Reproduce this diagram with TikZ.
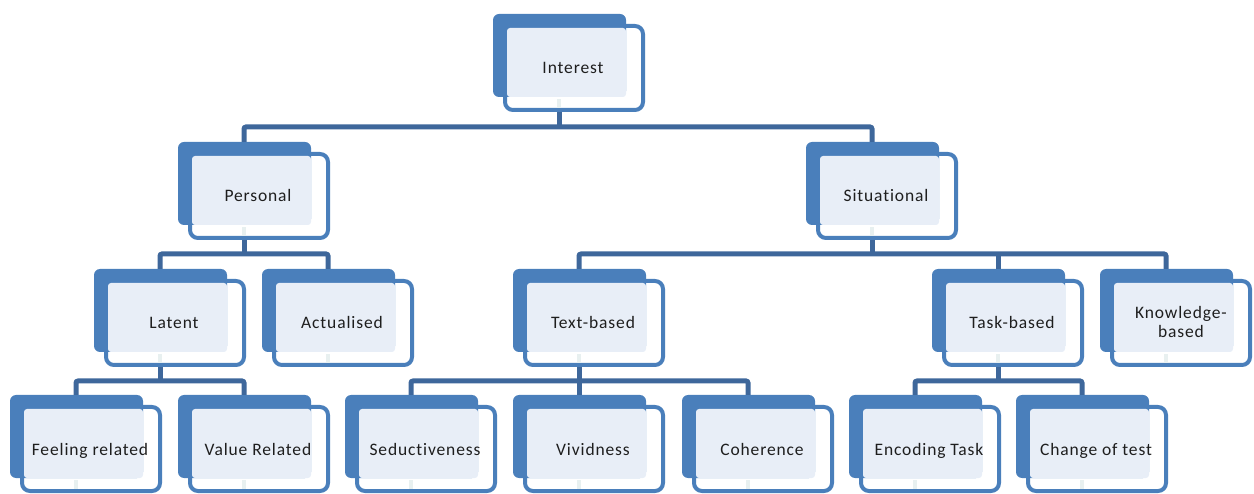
\documentclass[tikz,border=0pt]{standalone}
\usepackage{fontspec}
\setmainfont{Carlito}[LetterSpace=5,Ligatures=NoCommon]
\usetikzlibrary{calc}
\definecolor{boxblue}{RGB}{74,127,187}
\definecolor{connblue}{RGB}{62,103,155}
\definecolor{lightfill}{RGB}{232,238,247}
\definecolor{stubcol}{RGB}{232,240,240}
\definecolor{txtcol}{RGB}{30,30,30}
\tikzset{
  bluebox/.style={fill=boxblue, rounded corners=6pt, minimum width=133pt, minimum height=83pt, inner sep=0pt, outer sep=0pt, anchor=north west},
  outl/.style={draw=boxblue, line width=4pt, rounded corners=8pt},
  lightb/.style={fill=lightfill, rounded corners=3pt},
  txt/.style={font=\fontsize{17.5}{19}\selectfont, text=txtcol, inner sep=0pt, anchor=base},
  conn/.style={draw=connblue, line width=5pt, rounded corners=2pt},
  stub/.style={draw=stubcol, line width=3.5pt}
}
\newcommand\smartbox[4]{%
  \node[bluebox] (#1) at (#2,#3) {};
  \draw[outl] ($(#2,#3)+(12,12)$) rectangle ($(#2,#3)+(150,96)$);
  \fill[lightb] ($(#2,#3)+(14,14)$) rectangle ($(#2,#3)+(133,83)$);
  \coordinate (#1top) at ($(#2,#3)+(66,0)$);
  \coordinate (#1bot) at ($(#2,#3)+(66,98)$);
  \draw[stub] ($(#2,#3)+(66,85)$) -- ($(#2,#3)+(66,94)$);
  \node[txt] (#1t) at ($(#2,#3)+(80,60)$) {#4};
}
\begin{document}
\begin{tikzpicture}[x=1pt,y=-1pt]
\useasboundingbox (0,0) rectangle (1254,494);
% nodes
\smartbox{interest}{493}{14}{Interest}
\smartbox{personal}{178}{142}{Personal}
\smartbox{situational}{806}{142}{Situational}
\smartbox{latent}{94}{269}{Latent}
\smartbox{actualised}{262}{269}{Actualised}
\smartbox{textbased}{513}{269}{Text-based}
\smartbox{taskbased}{932}{269}{Task-based}
\smartbox{knowledge}{1100}{269}{}
\node[txt] (knowledge1) at (1181,319) {Knowledge-};
\node[txt] (knowledge2) at (1181,338) {based};
\smartbox{feeling}{10}{395}{Feeling related}
\smartbox{value}{178}{395}{Value Related}
\smartbox{seductive}{345}{395}{Seductiveness}
\smartbox{vivid}{513}{395}{Vividness}
\smartbox{coherence}{682}{395}{Coherence}
\smartbox{encoding}{849}{395}{Encoding Task}
\smartbox{change}{1016}{395}{Change of test}
% connectors
\draw[conn] (interestbot) -- (interestbot |- 0,127);
\draw[conn] (personaltop) -- (personaltop |- 0,127) -- (situationaltop |- 0,127) -- (situationaltop);

\draw[conn] (personalbot) -- (personalbot |- 0,254);
\draw[conn] (latenttop) -- (latenttop |- 0,254) -- (actualisedtop |- 0,254) -- (actualisedtop);

\draw[conn] (situationalbot) -- (situationalbot |- 0,254);
\draw[conn] (textbasedtop) -- (textbasedtop |- 0,254) -- (knowledgetop |- 0,254) -- (knowledgetop);
\draw[conn] (taskbasedtop) -- (taskbasedtop |- 0,254);

\draw[conn] (latentbot) -- (latentbot |- 0,381);
\draw[conn] (feelingtop) -- (feelingtop |- 0,381) -- (valuetop |- 0,381) -- (valuetop);

\draw[conn] (textbasedbot) -- (textbasedbot |- 0,381);
\draw[conn] (seductivetop) -- (seductivetop |- 0,381) -- (coherencetop |- 0,381) -- (coherencetop);
\draw[conn] (vividtop) -- (vividtop |- 0,381);

\draw[conn] (taskbasedbot) -- (taskbasedbot |- 0,381);
\draw[conn] (encodingtop) -- (encodingtop |- 0,381) -- (changetop |- 0,381) -- (changetop);
\end{tikzpicture}
\end{document}
